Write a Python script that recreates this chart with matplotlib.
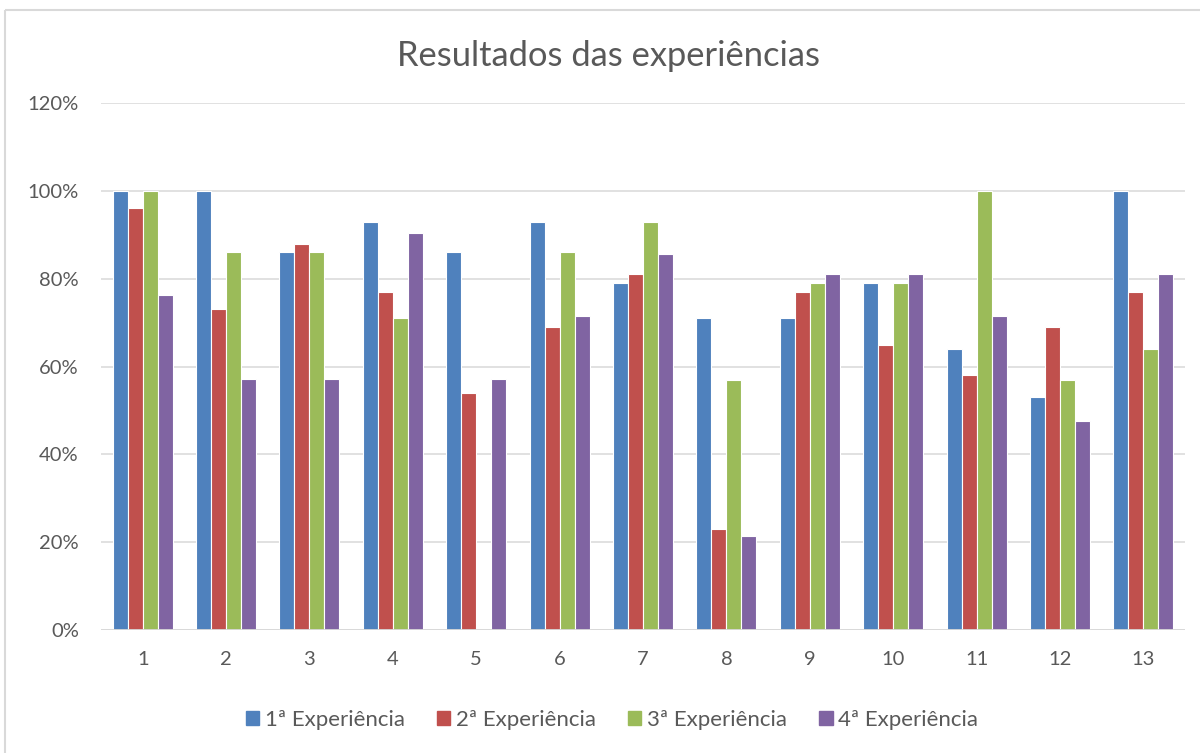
import numpy as np
import matplotlib.pyplot as plt
from matplotlib.patches import Rectangle
from matplotlib.ticker import PercentFormatter

# experiment results per test (fraction of correct answers)
tests = [str(i) for i in range(1, 14)]
exp1 = [1.00, 1.00, 0.86, 0.93, 0.86, 0.93, 0.79, 0.71, 0.71, 0.79, 0.64, 0.53, 1.00]
exp2 = [0.96, 0.73, 0.88, 0.77, 0.54, 0.69, 0.81, 0.23, 0.77, 0.65, 0.58, 0.69, 0.77]
exp3 = [1.00, 0.86, 0.86, 0.71, 0.00, 0.86, 0.93, 0.57, 0.79, 0.79, 1.00, 0.57, 0.64]
exp4 = [0.762, 0.571, 0.571, 0.905, 0.571, 0.714, 0.857, 0.214, 0.810, 0.810, 0.714, 0.476, 0.810]

series = [exp1, exp2, exp3, exp4]
labels = ["1ª Experiência", "2ª Experiência", "3ª Experiência", "4ª Experiência"]
colors = ["#4F81BD", "#C0504D", "#9BBB59", "#8064A2"]

TEXT = "#595959"
GRID = "#D9D9D9"
plt.rcParams['font.family'] = ['Lato', 'DejaVu Sans']

W, H = 1200, 753
fig = plt.figure(figsize=(W / 100, H / 100), dpi=100)
ax = fig.add_axes([101 / W, (H - 630) / H, (1185 - 101) / W, (630 - 103) / H])

x = np.arange(1, len(tests) + 1)
bw = 0.18
for i, (vals, lab, col) in enumerate(zip(series, labels, colors)):
    ax.bar(x + (i - 1.5) * bw, vals, width=bw, color=col, edgecolor="white",
           linewidth=0.8, label=lab, zorder=3)

ax.set_xlim(0.5, len(tests) + 0.5)
ax.set_ylim(0, 1.2)
ax.set_yticks(np.arange(0, 1.21, 0.2))
ax.yaxis.set_major_formatter(PercentFormatter(1.0, decimals=0))
ax.set_xticks(x)
ax.set_xticklabels(tests)
ax.tick_params(axis="both", length=0, colors=TEXT, labelsize=14.5)
ax.tick_params(axis="y", pad=16)
ax.tick_params(axis="x", pad=15)
ax.grid(axis="y", color=GRID, linewidth=1.1, zorder=0)
for s in ax.spines.values():
    s.set_visible(False)
ax.axhline(0, color=GRID, linewidth=1.3, zorder=4)

fig.text(609 / W, (H - 56) / H, "Resultados das experiências", ha="center", va="center",
         fontsize=24.8, color=TEXT)

handles = [Rectangle((0, 0), 1, 1, color=c) for c in colors]
fig.legend(handles, labels, loc="center", bbox_to_anchor=(612 / W, (H - 720) / H), ncol=4,
           frameon=False, fontsize=16, handlelength=0.6, handleheight=0.6,
           handletextpad=0.25, columnspacing=1.45, labelcolor=TEXT)

# outer chart border
fig.patches.append(Rectangle((5, H - 10), W + 20, -(H + 20), transform=None,
                             fill=False, edgecolor=GRID, linewidth=1.5))

fig.savefig("out.png", dpi=100, facecolor="white")
